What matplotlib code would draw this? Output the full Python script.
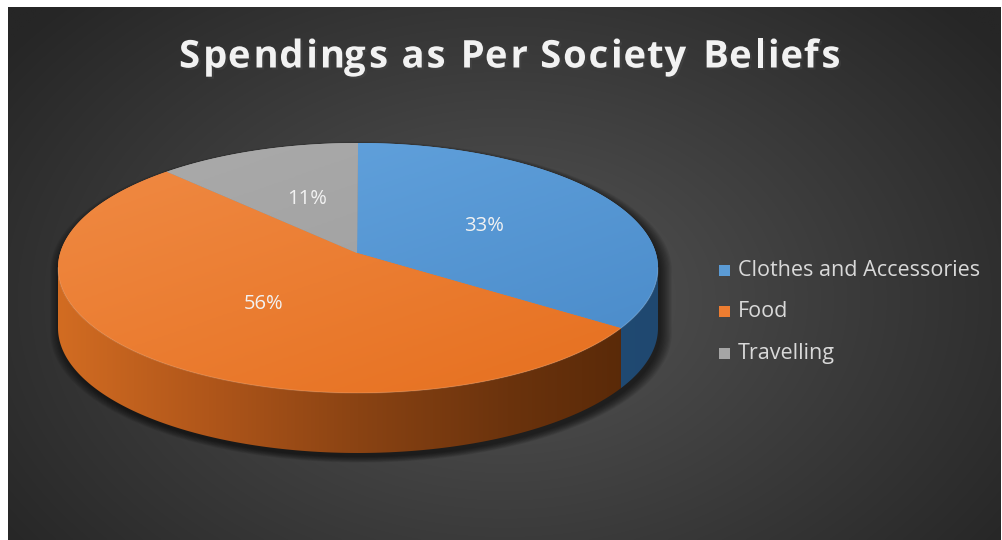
import numpy as np
import matplotlib.pyplot as plt
from matplotlib.patches import Polygon, Rectangle
from matplotlib.colors import LinearSegmentedColormap, to_rgb
from matplotlib.font_manager import FontProperties, findfont
from matplotlib.ft2font import FT2Font
import matplotlib.patheffects as pe

plt.rcParams["font.family"] = ["Open Sans", "DejaVu Sans"]

title = "Spendings as Per Society Beliefs"
categories = ["Clothes and Accessories", "Food", "Travelling"]
shares = [33, 56, 11]
top_light = ["#66a6e0", "#f08b45", "#ababab"]
top_dark = ["#4889c8", "#e66f1e", "#9b9b9b"]
side_stops = [
    ["#3a78b5", "#2d6396", "#24517c", "#1f4870"],
    ["#d26c22", "#b0561a", "#8a4313", "#6b330d", "#552707"],
    ["#8a8a8a", "#5e5e5e"],
]
legend_colors = ["#5b9bd5", "#ed7d31", "#a5a5a5"]

fig = plt.figure(figsize=(10.03, 5.40), dpi=100, facecolor="white")
ax = fig.add_axes([0, 0, 1, 1])
ax.axis("off")

# dark radial backdrop of the chart area
X0, X1, Y0, Y1 = 8, 1001, 7, 540
gx, gy = np.meshgrid(np.linspace(X0, X1, 500), np.linspace(Y0, Y1, 270))
r = np.clip(np.sqrt(((gx - 505) / 620) ** 2 + ((gy - 300) / 430) ** 2), 0, 1)
inner, outer = np.array(to_rgb("#555555")), np.array(to_rgb("#262626"))
bg = inner * (1 - r[..., None]) + outer * r[..., None]
ax.imshow(bg, extent=(X0, X1, Y1, Y0), aspect="auto", zorder=0,
          interpolation="bilinear")

# pie geometry (pixels)
cx, cy, a, b = 358, 268, 300, 125
jx, jy = 357, 253
depth = 60


def rim(deg, dy=0.0):
    th = np.radians(deg)
    return np.column_stack([cx + a * np.cos(th), cy - b * np.sin(th) + dy])


total = float(sum(shares))
bounds = 90 - 360 * np.concatenate([[0], np.cumsum(shares)]) / total

# soft drop shadow under the disc
sil = np.vstack([rim(np.linspace(0, 180, 120)),
                 rim(np.linspace(180, 360, 120), dy=depth)])
for k in range(10):
    s = 1 + 0.004 * k
    pts = np.column_stack([(sil[:, 0] - cx) * s + cx + 3,
                           (sil[:, 1] - cy - depth / 2) * s + cy + depth / 2 + 4])
    ax.add_patch(Polygon(pts, closed=True, facecolor="black", edgecolor="none",
                         alpha=0.07, zorder=1))

# outer walls of the front half
for i in range(len(shares)):
    hi, lo = min(bounds[i], 0), max(bounds[i + 1], -180)
    if hi <= lo:
        continue
    ts = np.linspace(hi, lo, 150)
    pts = np.vstack([rim(ts), rim(ts[::-1], dy=depth)])
    poly = Polygon(pts, closed=True, facecolor="none", edgecolor="none", zorder=2)
    ax.add_patch(poly)
    cmap = LinearSegmentedColormap.from_list(f"side{i}", side_stops[i])
    im = ax.imshow(np.linspace(0, 1, 256)[None, :], cmap=cmap, aspect="auto",
                   extent=(cx - a, cx + a, cy + b + depth + 5, cy - 5),
                   zorder=2, interpolation="bilinear")
    im.set_clip_path(poly)

# top faces
tx, ty = np.meshgrid(np.linspace(cx - a, cx + a, 200), np.linspace(cy - b - 5, cy + b + 5, 120))
g = np.clip(((ty - (cy - b)) + 0.35 * (tx - (cx - a))) / (2 * b + 0.35 * 2 * a), 0, 1)
for i in range(len(shares)):
    ts = np.linspace(bounds[i], bounds[i + 1], 200)
    pts = np.vstack([[jx, jy], rim(ts)])
    poly = Polygon(pts, closed=True, facecolor=top_light[i], edgecolor="none", zorder=3)
    ax.add_patch(poly)
    cmap = LinearSegmentedColormap.from_list(f"top{i}", [top_light[i], top_dark[i]])
    im = ax.imshow(g, cmap=cmap, vmin=0, vmax=1, aspect="auto",
                   extent=(cx - a, cx + a, cy + b + 5, cy - b - 5),
                   zorder=3, interpolation="bilinear")
    im.set_clip_path(poly)

front = rim(np.linspace(0, -180, 200))
ax.plot(front[:, 0], front[:, 1], color="white", alpha=0.12, lw=1.0, zorder=4)

# percentage labels
for i, v in enumerate(shares):
    mid = np.radians((bounds[i] + bounds[i + 1]) / 2)
    ax.text(jx + 0.49 * a * np.cos(mid), jy + 4 - 0.49 * b * np.sin(mid), f"{v}%",
            ha="center", va="center", fontsize=14.5, color="#f2f2f2", zorder=5)

# title with extra letter spacing, laid out glyph by glyph
tsize, track = 27.5, 1.8
prop = FontProperties(family="Open Sans", weight="bold", size=tsize)
font = FT2Font(findfont(prop))
font.set_size(tsize, 100)
glyphs = []
pen = 0.0
for ch in title:
    gl = font.load_char(ord(ch))
    glyphs.append((ch, pen + gl.horiBearingX / 64.0))
    pen += gl.linearHoriAdvance / 65536.0 + track
x_start = 508 - (pen - track) / 2
for ch, off in glyphs:
    if ch == " ":
        continue
    ax.text(x_start + off, 53, ch, ha="left", va="center_baseline",
            fontproperties=prop, color="#f2f2f2", zorder=5,
            path_effects=[pe.withSimplePatchShadow(offset=(1.5, -1.5), alpha=0.45)])

# legend
for i, name in enumerate(categories):
    y = 270 + i * 41.5
    ax.add_patch(Rectangle((719, y - 5.5), 11, 11, facecolor=legend_colors[i],
                           edgecolor="none", zorder=5))
    ax.text(738, y, name, ha="left", va="center", fontsize=15.5,
            color="#d9d9d9", zorder=5)

ax.set_xlim(0, 1003)
ax.set_ylim(540, 0)
fig.savefig("out.png", dpi=100, facecolor="white")
